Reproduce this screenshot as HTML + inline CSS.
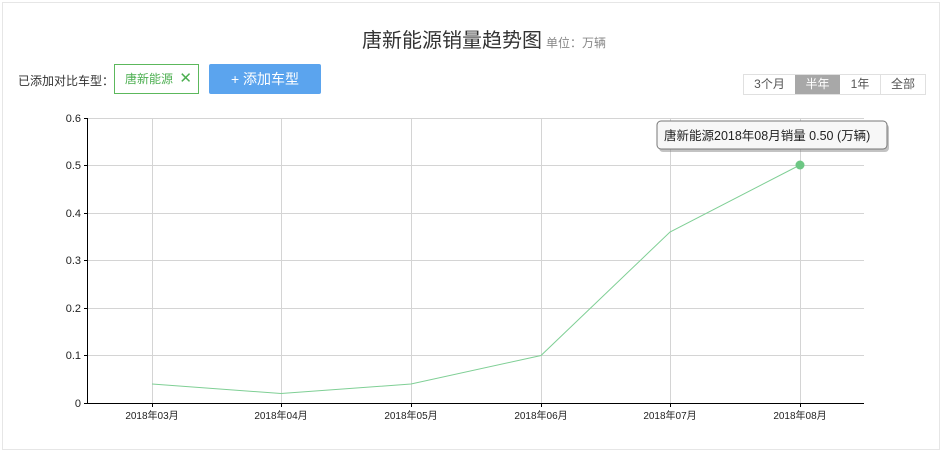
<!DOCTYPE html>
<html><head><meta charset="utf-8"><style>
body{margin:0;background:#fff;width:942px;height:456px;overflow:hidden;font-family:"Liberation Sans","Noto Sans CJK SC",sans-serif;}
.frame{position:absolute;left:2px;top:2px;width:936px;height:446px;border:1px solid #e6e6e6;}
.t{position:absolute;white-space:nowrap;}
</style></head><body>
<div class="frame"></div>
<div class="t" style="left:362px;top:24px;font-size:20px;color:#333;">唐新能源销量趋势图<span style="font-size:12px;color:#888;margin-left:4px;">单位：万辆</span></div>
<div class="t" style="left:18px;top:72px;font-size:12px;color:#333;">已添加对比车型：</div>
<div class="t" style="left:114px;top:64px;border:1px solid #5cb85c;font-size:12px;color:#4caf50;line-height:28px;padding-left:10px;box-sizing:border-box;width:85px;height:30px;">唐新能源 <span style="font-size:15px;margin-left:3px;">✕</span></div>
<div class="t" style="left:209px;top:64px;width:112px;height:30px;background:#5ba4ee;color:#fff;font-size:14px;line-height:30px;text-align:center;border-radius:2px;">+ 添加车型</div>
<div class="t" style="left:743px;top:74px;height:19px;border:1px solid #e0e0e0;font-size:12px;line-height:19px;display:flex;color:#555;">
<span style="width:51px;text-align:center;">3个月</span><span style="width:45px;text-align:center;background:#a8a8a8;color:#fff;">半年</span><span style="width:40px;text-align:center;border-right:1px solid #e0e0e0;">1年</span><span style="width:44px;text-align:center;">全部</span></div>
<svg width="942" height="456" style="position:absolute;left:0;top:0" font-family="Liberation Sans, Noto Sans CJK SC, sans-serif">
<g stroke="#d4d4d4" stroke-width="1">
<line x1="87" y1="118.5" x2="864" y2="118.5"/><line x1="87" y1="165.5" x2="864" y2="165.5"/><line x1="87" y1="213.5" x2="864" y2="213.5"/><line x1="87" y1="260.5" x2="864" y2="260.5"/><line x1="87" y1="308.5" x2="864" y2="308.5"/><line x1="87" y1="355.5" x2="864" y2="355.5"/>
<line x1="152.5" y1="118" x2="152.5" y2="403"/><line x1="281.5" y1="118" x2="281.5" y2="403"/><line x1="411.5" y1="118" x2="411.5" y2="403"/><line x1="541.5" y1="118" x2="541.5" y2="403"/><line x1="670.5" y1="118" x2="670.5" y2="403"/><line x1="800.5" y1="118" x2="800.5" y2="403"/>
</g>
<g stroke="#000" stroke-width="1">
<line x1="87.5" y1="118" x2="87.5" y2="403"/><line x1="87" y1="403.5" x2="864" y2="403.5"/>
<line x1="84" y1="118.5" x2="87" y2="118.5"/><line x1="84" y1="165.5" x2="87" y2="165.5"/><line x1="84" y1="213.5" x2="87" y2="213.5"/><line x1="84" y1="260.5" x2="87" y2="260.5"/><line x1="84" y1="308.5" x2="87" y2="308.5"/><line x1="84" y1="355.5" x2="87" y2="355.5"/><line x1="84" y1="403.5" x2="87" y2="403.5"/>
<line x1="152.5" y1="403" x2="152.5" y2="407"/><line x1="281.5" y1="403" x2="281.5" y2="407"/><line x1="411.5" y1="403" x2="411.5" y2="407"/><line x1="541.5" y1="403" x2="541.5" y2="407"/><line x1="670.5" y1="403" x2="670.5" y2="407"/><line x1="800.5" y1="403" x2="800.5" y2="407"/>
</g>
<g font-size="11" fill="#222" text-anchor="end">
<text x="81" y="122">0.6</text><text x="81" y="169">0.5</text><text x="81" y="217">0.4</text><text x="81" y="264">0.3</text><text x="81" y="312">0.2</text><text x="81" y="359">0.1</text><text x="81" y="407">0</text>
</g>
<g font-size="10" fill="#222" text-anchor="middle">
<text x="152" y="419">2018年03月</text><text x="281" y="419">2018年04月</text><text x="411" y="419">2018年05月</text><text x="541" y="419">2018年06月</text><text x="670" y="419">2018年07月</text><text x="800" y="419">2018年08月</text>
</g>
<polyline points="152,384 281,393.5 411,384 541,355.5 670,232 800,165" fill="none" stroke="#7fcf95" stroke-width="1"/>
<circle cx="800" cy="165" r="4.5" fill="#6dc784"/>
<rect x="659" y="124" width="230" height="28" rx="4" fill="#888" opacity="0.5"/>
<rect x="657" y="121" width="230" height="28" rx="4" fill="#f7f7f7" stroke="#777" stroke-width="1"/>
<text x="664" y="140" font-size="12.5" fill="#222">唐新能源2018年08月销量 0.50 (万辆)</text>
</svg>
</body></html>
